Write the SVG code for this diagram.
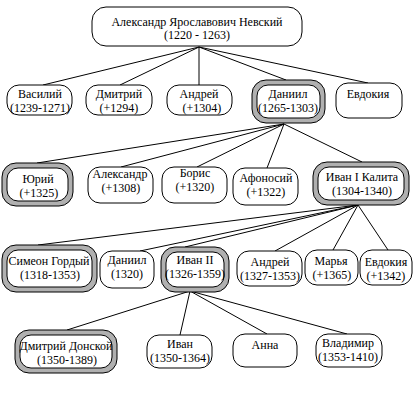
<svg xmlns="http://www.w3.org/2000/svg" width="414" height="415" viewBox="0 0 414 415">
<style>
.bg{fill:#ffffff}
.n{fill:#ffffff;stroke:#000000;stroke-width:1}
.ring{fill:#b0b0b0;stroke:#000000;stroke-width:1}
.c line{stroke:#000000;stroke-width:1}
text{font-family:"Liberation Serif","DejaVu Serif",serif;font-size:12px;fill:#000000;text-anchor:middle}
</style>
<rect class="bg" x="0" y="0" width="414" height="415"/>
<g id="connectors" class="c">
<line x1="199" y1="47" x2="43" y2="85"/>
<line x1="199" y1="47" x2="120" y2="85"/>
<line x1="199" y1="47" x2="199" y2="85"/>
<line x1="199" y1="47" x2="286" y2="80"/>
<line x1="199" y1="47" x2="368" y2="83"/>
<line x1="284" y1="124" x2="37" y2="163"/>
<line x1="284" y1="124" x2="121" y2="167"/>
<line x1="284" y1="124" x2="197" y2="167"/>
<line x1="284" y1="124" x2="267" y2="168"/>
<line x1="284" y1="124" x2="362" y2="162"/>
<line x1="358" y1="205" x2="38" y2="245"/>
<line x1="358" y1="205" x2="140" y2="251"/>
<line x1="358" y1="205" x2="185" y2="247"/>
<line x1="358" y1="205" x2="275" y2="251"/>
<line x1="358" y1="205" x2="333" y2="250"/>
<line x1="358" y1="205" x2="388" y2="250"/>
<line x1="190" y1="291" x2="67" y2="330"/>
<line x1="190" y1="291" x2="180" y2="335"/>
<line x1="190" y1="291" x2="267" y2="334"/>
<line x1="190" y1="291" x2="347" y2="334"/>
</g>
<g id="n-nevsky">
<rect class="n" x="92" y="7" width="210" height="39" rx="14"/>
<text x="197" y="26">Александр Ярославович Невский</text>
<text x="197" y="39">(1220 - 1263)</text>
</g>
<g id="n-vasily">
<rect class="n" x="7" y="85" width="65" height="30" rx="12"/>
<text x="40" y="98">Василий</text>
<text x="40" y="112">(1239-1271)</text>
</g>
<g id="n-dmitry">
<rect class="n" x="86" y="85" width="66" height="30" rx="12"/>
<text x="119" y="98">Дмитрий</text>
<text x="119" y="112">(+1294)</text>
</g>
<g id="n-andrey1">
<rect class="n" x="167" y="85" width="65" height="30" rx="12"/>
<text x="199" y="98">Андрей</text>
<text x="202" y="112">(+1304)</text>
</g>
<g id="n-daniil">
<rect class="ring" x="252" y="80" width="73" height="43" rx="14"/>
<rect class="n" x="257" y="85" width="63" height="33" rx="11"/>
<text x="288" y="98">Даниил</text>
<text x="288" y="112">(1265-1303)</text>
</g>
<g id="n-evdokia1">
<rect class="n" x="336" y="83" width="66" height="35" rx="12"/>
<text x="368" y="98">Евдокия</text>
</g>
<g id="n-yury">
<rect class="ring" x="2" y="163" width="71" height="43" rx="14"/>
<rect class="n" x="7" y="168" width="61" height="33" rx="11"/>
<text x="38" y="183">Юрий</text>
<text x="39" y="197">(+1325)</text>
</g>
<g id="n-alexandr">
<rect class="n" x="88" y="167" width="65" height="36" rx="12"/>
<text x="120" y="178">Александр</text>
<text x="121" y="192">(+1308)</text>
</g>
<g id="n-boris">
<rect class="n" x="162" y="167" width="65" height="36" rx="12"/>
<text x="195" y="177">Борис</text>
<text x="195" y="191">(+1320)</text>
</g>
<g id="n-afonosy">
<rect class="n" x="233" y="168" width="65" height="37" rx="12"/>
<text x="266" y="182">Афоносий</text>
<text x="266" y="196">(+1322)</text>
</g>
<g id="n-ivan1">
<rect class="ring" x="313" y="162" width="96" height="43" rx="14"/>
<rect class="n" x="318" y="167" width="86" height="33" rx="11"/>
<text x="362" y="181">Иван I Калита</text>
<text x="362" y="195">(1304-1340)</text>
</g>
<g id="n-simeon">
<rect class="ring" x="2" y="245" width="95" height="47" rx="14"/>
<rect class="n" x="7" y="250" width="85" height="37" rx="11"/>
<text x="49" y="265">Симеон Гордый</text>
<text x="50" y="279">(1318-1353)</text>
</g>
<g id="n-daniil2">
<rect class="n" x="100" y="251" width="54" height="37" rx="12"/>
<text x="127" y="264">Даниил</text>
<text x="127" y="278">(1320)</text>
</g>
<g id="n-ivan2">
<rect class="ring" x="161" y="247" width="68" height="45" rx="14"/>
<rect class="n" x="166" y="252" width="58" height="35" rx="11"/>
<text x="195" y="264">Иван II</text>
<text x="195" y="278">(1326-1359)</text>
</g>
<g id="n-andrey2">
<rect class="n" x="237" y="251" width="65" height="35" rx="12"/>
<text x="270" y="266">Андрей</text>
<text x="270" y="280">(1327-1353)</text>
</g>
<g id="n-marya">
<rect class="n" x="305" y="250" width="53" height="35" rx="12"/>
<text x="331" y="265">Марья</text>
<text x="332" y="279">(+1365)</text>
</g>
<g id="n-evdokia2">
<rect class="n" x="360" y="250" width="52" height="35" rx="12"/>
<text x="386" y="266">Евдокия</text>
<text x="386" y="280">(+1342)</text>
</g>
<g id="n-donskoy">
<rect class="ring" x="15" y="330" width="102" height="43" rx="14"/>
<rect class="n" x="20" y="335" width="92" height="33" rx="11"/>
<text x="66" y="350">Дмитрий Донской</text>
<text x="67" y="364">(1350-1389)</text>
</g>
<g id="n-ivan">
<rect class="n" x="147" y="335" width="65" height="33" rx="12"/>
<text x="180" y="348">Иван</text>
<text x="180" y="362">(1350-1364)</text>
</g>
<g id="n-anna">
<rect class="n" x="233" y="334" width="64" height="33" rx="12"/>
<text x="265" y="349">Анна</text>
</g>
<g id="n-vladimir">
<rect class="n" x="316" y="334" width="66" height="33" rx="12"/>
<text x="348" y="347">Владимир</text>
<text x="348" y="361">(1353-1410)</text>
</g>
</svg>
